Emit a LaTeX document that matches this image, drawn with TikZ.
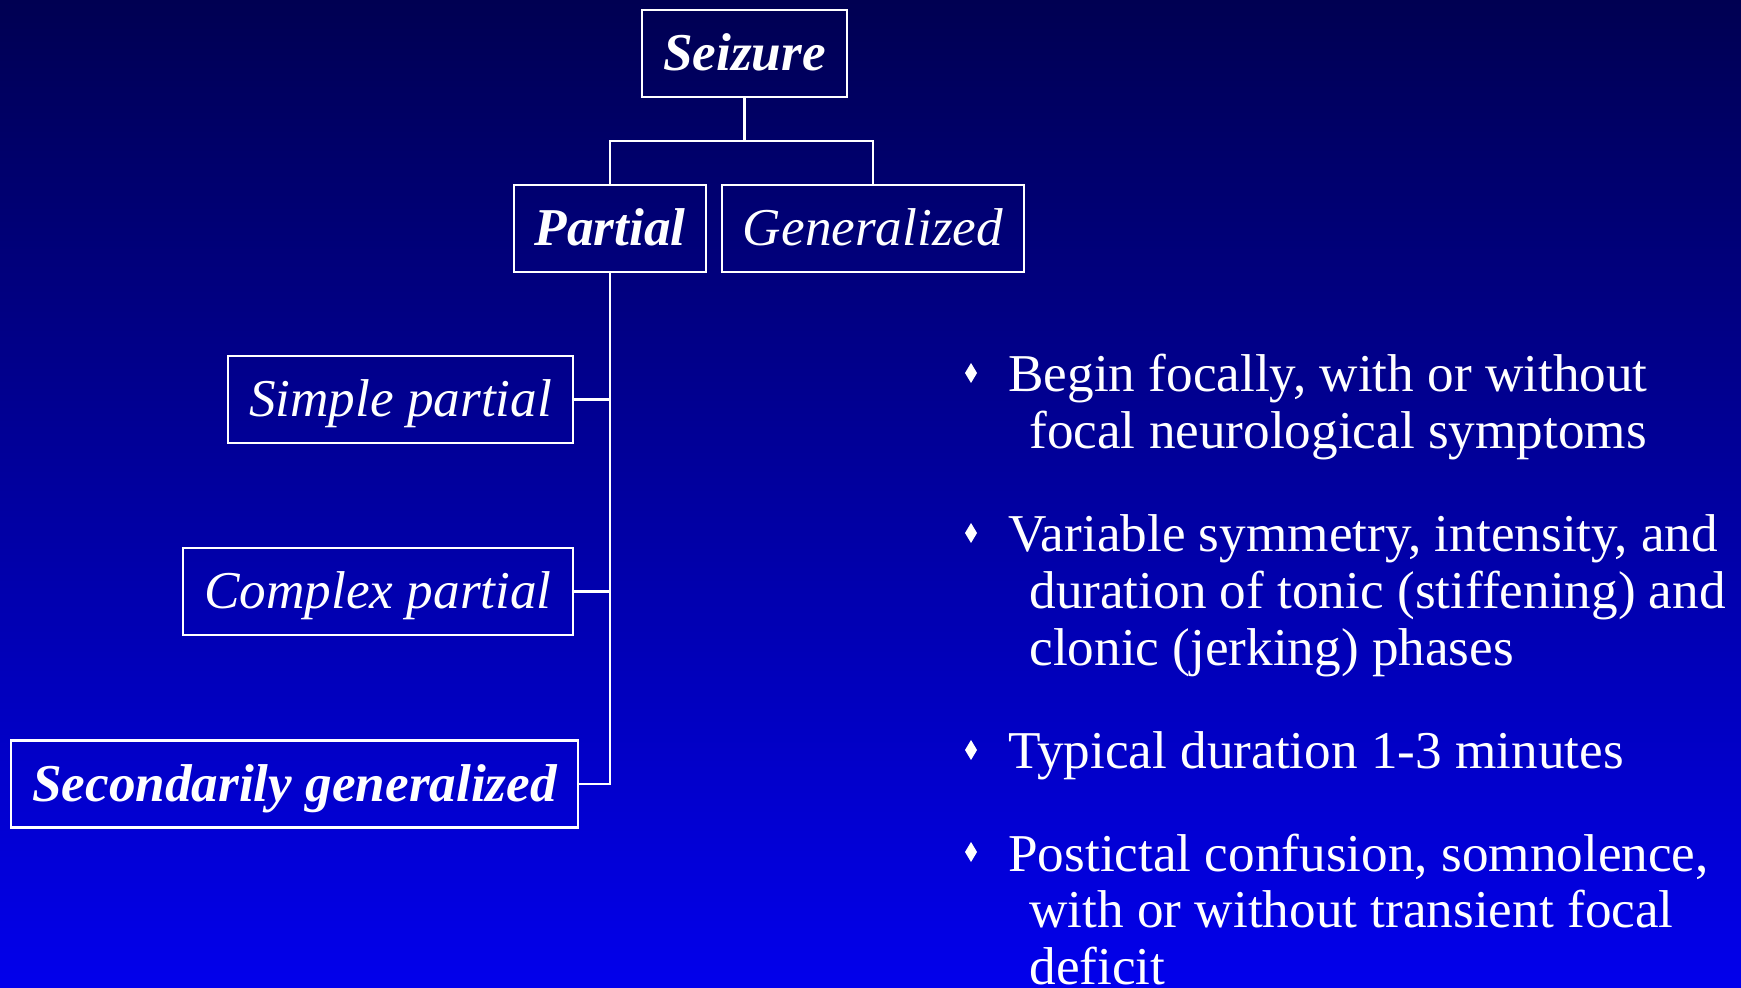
\documentclass[tikz,border=0pt]{standalone}
\usepackage{fontspec}
\setmainfont{Liberation Serif}
\definecolor{bgtop}{RGB}{0,0,82}
\definecolor{bgmid}{RGB}{0,0,200}
\definecolor{bgbot}{RGB}{2,0,236}
\begin{document}
\begin{tikzpicture}[x=0.5pt,y=-0.5pt,
  box/.style={draw=white,line width=1.3pt,text=white,inner sep=0pt,
    minimum height=43.5pt,text height=17pt,text depth=0pt,
    font=\fontsize{26.6}{28.3}\selectfont\itshape},
  bbox/.style={box,font=\fontsize{26.6}{28.3}\selectfont\bfseries\itshape},
  link/.style={draw=white,line width=1.3pt},
  btext/.style={text=white,inner sep=0pt,anchor=base west,align=left,
    font=\fontsize{26.6}{28.3}\selectfont},
  bul/.style={fill=white}]
\useasboundingbox (0,0) rectangle (1741,988);
\shade[top color=bgtop,middle color=bgmid,bottom color=bgbot] (0,0) rectangle (1741,988);

\node[bbox,minimum width=102.5pt] (seizure) at (744.5,53.5) {Seizure};
\node[bbox,minimum width=96pt] (partial) at (610,228.5) {Partial};
\node[box,minimum width=151pt] (gen) at (873,228.5) {Generalized};
\node[box,minimum width=172.5pt] (simple) at (400.5,399.5) {Simple partial};
\node[box,minimum width=195pt] (complex) at (378,591.5) {Complex partial};
\node[bbox,minimum width=283.5pt] (second) at (294.5,784) {Secondarily generalized};

\coordinate (j) at (744.5,141);
\draw[link] (seizure.south) -- (j);
\draw[link] (partial.north) |- (j) -| (gen.north);
\draw[link] (partial.south) |- (second.east);
\draw[link] (simple.east) -- (simple.east -| partial.south);
\draw[link] (complex.east) -- (complex.east -| partial.south);

% base anchor of a multi-line node = baseline of its last line
\node[btext] (b1) at (1008,448.6) {Begin focally, with or without\\\hspace*{10.5pt}focal neurological symptoms};
\node[btext] (b2) at (1008,665.2) {Variable symmetry, intensity, and\\\hspace*{10.5pt}duration of tonic (stiffening) and\\\hspace*{10.5pt}clonic (jerking) phases};
\node[btext] (b3) at (1008,769) {Typical duration 1-3 minutes};
\node[btext] (b4) at (1008,984.2) {Postictal confusion, somnolence,\\\hspace*{10.5pt}with or without transient focal\\\hspace*{10.5pt}deficit};

\foreach \yy in {392,552,769,871}
  \fill[bul] (971,\yy-29) -- (977,\yy-19) -- (971,\yy-9) -- (965,\yy-19) -- cycle;
\end{tikzpicture}
\end{document}
